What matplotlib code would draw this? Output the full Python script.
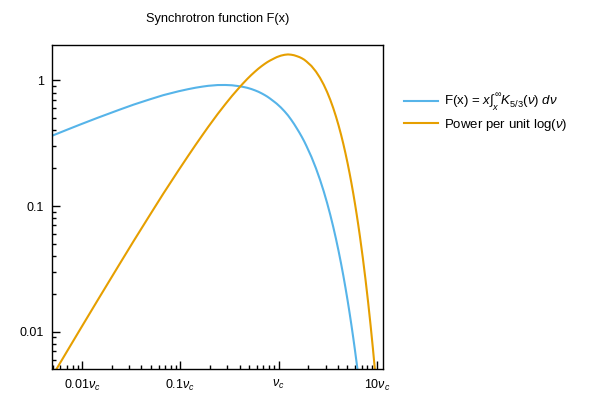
import matplotlib
matplotlib.use("Agg")
import matplotlib.pyplot as plt
from matplotlib.ticker import FixedLocator, LogLocator, NullFormatter

plt.rcParams['font.family'] = ['Liberation Sans', 'DejaVu Sans']
plt.rcParams['mathtext.fontset'] = 'custom'
plt.rcParams['mathtext.rm'] = 'Liberation Sans'
plt.rcParams['mathtext.it'] = 'Liberation Sans:italic'
plt.rcParams['mathtext.bf'] = 'Liberation Sans:bold'

# x in units of nu_c
x_vals = [0.004785, 0.007177, 0.009569, 0.01435, 0.02392, 0.03349, 0.04785,
          0.06699, 0.09569, 0.1196, 0.1435, 0.1675, 0.1914, 0.2392, 0.2871,
          0.3349, 0.3828, 0.4306, 0.4785, 0.5263, 0.5742, 0.6220, 0.6699,
          0.7177, 0.7656, 0.8134, 0.8612, 0.9091, 0.9569, 1.0526, 1.1483,
          1.2440, 1.3397, 1.4354, 1.5311, 1.6268, 1.7225, 1.8182, 1.9139,
          2.1531, 2.3923, 2.6316, 2.8708, 3.1100, 3.3493, 3.5885, 3.8278,
          4.0670, 4.3062, 4.5455, 4.7847, 5.0239, 5.2632, 5.5024, 5.7416,
          5.9809, 6.2201, 6.4593, 6.6986, 7.1770, 7.6555, 8.1340, 8.6124,
          9.0909, 9.5694, 10.0478]

F_vals = [0.3585, 0.4071, 0.445, 0.5029, 0.5832, 0.641, 0.702,
          0.762, 0.818, 0.850, 0.874, 0.891, 0.904, 0.917, 0.918,
          0.913, 0.901, 0.888, 0.872, 0.853, 0.832, 0.811, 0.788,
          0.765, 0.742, 0.718, 0.694, 0.672, 0.651, 0.608, 0.566,
          0.526, 0.486, 0.449, 0.414, 0.383, 0.354, 0.327, 0.301,
          0.246, 0.200, 0.16212, 0.13108, 0.10572, 0.08510, 0.06836, 0.05480,
          0.04387, 0.03507, 0.02799, 0.02230, 0.01776, 0.01412, 0.01122, 0.008908,
          0.007064, 0.005598, 0.004435, 0.003512, 0.002197, 0.001372, 0.0008548, 0.0005316,
          0.0003302, 0.0002047, 0.0001269]

P_vals = [0.004212, 0.007175, 0.010458, 0.017727, 0.034263, 0.052722, 0.082485,
          0.125349, 0.19223, 0.249688, 0.308085, 0.366424, 0.42488, 0.538738, 0.64719,
          0.750943, 0.84694, 0.93906, 1.0246, 1.102503, 1.17312, 1.238803, 1.29626,
          1.348313, 1.39496, 1.434205, 1.46781, 1.50024, 1.52985, 1.57168, 1.59612,
          1.60693, 1.59894, 1.582725, 1.55664, 1.530085, 1.49742, 1.460055, 1.4147,
          1.300725, 1.175, 1.0477, 0.92411, 0.80744, 0.69995, 0.60242, 0.51512,
          0.43815, 0.37087, 0.31244, 0.26203, 0.21911, 0.18250, 0.15161, 0.12560,
          0.10375, 0.08551, 0.07035, 0.05777, 0.03872, 0.02579, 0.01707, 0.01124,
          0.007372, 0.004810, 0.003131]

x_ticks = [0.01, 0.1, 1, 10]
x_tick_labels = [r'0.01$\nu_c$', r'0.1$\nu_c$', r'$\nu_c$', r'10$\nu_c$']
y_ticks = [0.01, 0.1, 1]
y_tick_labels = ['0.01', '0.1', '1']

label_F = r'F(x) = $x\int_x^{\infty}K_{5/3}(\nu)\ d\nu$'
label_P = r'Power per unit log($\nu$)'

fig = plt.figure(figsize=(6, 4), dpi=100)
ax = fig.add_axes([52/600, 1-369.3/400, (383.3-52)/600, (369.3-45)/400])

ax.plot(x_vals, F_vals, color='#56B4E9', lw=1.5, label=label_F)
ax.plot(x_vals, P_vals, color='#E69F00', lw=1.5, label=label_P)

ax.set_xscale('log')
ax.set_yscale('log')
ax.set_xlim(0.00494, 11.6)
ax.set_ylim(0.00502, 1.91)

ax.xaxis.set_major_locator(FixedLocator(x_ticks))
ax.set_xticklabels(x_tick_labels)
ax.yaxis.set_major_locator(FixedLocator(y_ticks))
ax.set_yticklabels(y_tick_labels)
ax.xaxis.set_minor_locator(LogLocator(base=10, subs=range(2, 10), numticks=20))
ax.yaxis.set_minor_locator(LogLocator(base=10, subs=range(2, 10), numticks=20))
ax.xaxis.set_minor_formatter(NullFormatter())
ax.yaxis.set_minor_formatter(NullFormatter())

ax.tick_params(which='both', direction='in', top=False, right=False,
               labelsize=9, width=1.0, color='black')
ax.tick_params(which='major', length=6, pad=6)
ax.tick_params(which='minor', length=3)
for s in ax.spines.values():
    s.set_linewidth(1.0)

fig.text(217.5/600, 1-19/400, 'Synchrotron function F(x)', ha='center',
         va='center', fontsize=9.2)

leg = ax.legend(loc='upper left', bbox_to_anchor=(404/600, 1-92/400),
                bbox_transform=fig.transFigure, frameon=False, fontsize=9.5,
                handlelength=2.6, handletextpad=0.45, labelspacing=0.2,
                borderaxespad=0, borderpad=0)

fig.savefig('out.png', dpi=100)
